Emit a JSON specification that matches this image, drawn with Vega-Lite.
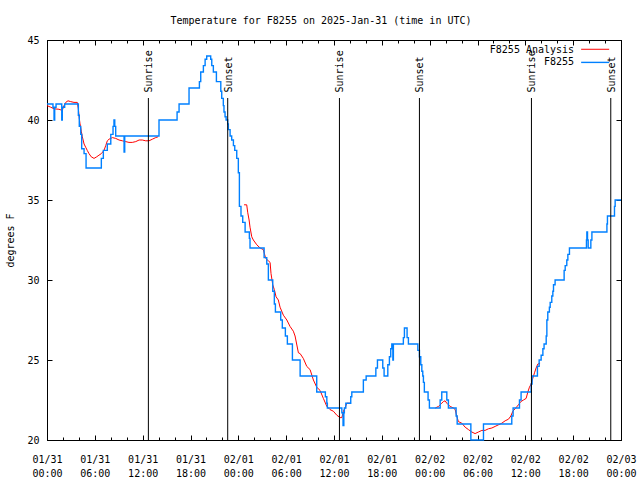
{
  "$schema": "https://vega.github.io/schema/vega-lite/v6.json",
  "width": 574,
  "height": 400,
  "autosize": {"type": "none"},
  "padding": {"left": 47, "top": 40, "right": 19, "bottom": 40},
  "background": "white",
  "title": {"text": "Temperature for F8255 on 2025-Jan-31 (time in UTC)", "anchor": "middle", "frame": "bounds", "offset": 9, "font": "DejaVu Sans Mono", "fontSize": 10, "fontWeight": "normal", "color": "black"},
  "resolve": {"axis": {"x": "independent", "y": "independent"}},
  "config": {
    "view": {"stroke": "black"},
    "axis": {"labelFont": "DejaVu Sans Mono", "labelFontSize": 10, "titleFont": "DejaVu Sans Mono", "titleFontSize": 10, "titleFontWeight": "normal", "domainColor": "black", "tickColor": "black", "labelColor": "black", "titleColor": "black", "grid": false, "domainWidth": 1, "tickWidth": 1},
    "text": {"font": "DejaVu Sans Mono", "fontSize": 10}
  },
  "datasets": {
    "obs": [
      {"t": "2025-01-31T00:00:00Z", "v": 41}, {"t": "2025-01-31T00:45:00Z", "v": 40.8}, {"t": "2025-01-31T00:53:00Z", "v": 40}, {"t": "2025-01-31T00:58:00Z", "v": 40.8},
      {"t": "2025-01-31T01:08:00Z", "v": 41}, {"t": "2025-01-31T01:51:00Z", "v": 40}, {"t": "2025-01-31T01:55:00Z", "v": 40.8}, {"t": "2025-01-31T02:13:00Z", "v": 41},
      {"t": "2025-01-31T03:56:00Z", "v": 40.3}, {"t": "2025-01-31T04:03:00Z", "v": 39.6}, {"t": "2025-01-31T04:14:00Z", "v": 39.1}, {"t": "2025-01-31T04:21:00Z", "v": 38.2},
      {"t": "2025-01-31T04:39:00Z", "v": 37.9}, {"t": "2025-01-31T04:54:00Z", "v": 37}, {"t": "2025-01-31T06:49:00Z", "v": 37.6}, {"t": "2025-01-31T07:04:00Z", "v": 38.1},
      {"t": "2025-01-31T07:34:00Z", "v": 38.5}, {"t": "2025-01-31T08:00:00Z", "v": 39.1}, {"t": "2025-01-31T08:17:00Z", "v": 39.6}, {"t": "2025-01-31T08:24:00Z", "v": 40},
      {"t": "2025-01-31T08:30:00Z", "v": 39.6}, {"t": "2025-01-31T08:37:00Z", "v": 39}, {"t": "2025-01-31T09:40:00Z", "v": 38}, {"t": "2025-01-31T09:45:00Z", "v": 39},
      {"t": "2025-01-31T14:03:00Z", "v": 40}, {"t": "2025-01-31T16:19:00Z", "v": 40.5}, {"t": "2025-01-31T16:34:00Z", "v": 41}, {"t": "2025-01-31T17:49:00Z", "v": 42},
      {"t": "2025-01-31T19:07:00Z", "v": 42.4}, {"t": "2025-01-31T19:17:00Z", "v": 43}, {"t": "2025-01-31T19:37:00Z", "v": 43.4}, {"t": "2025-01-31T19:50:00Z", "v": 43.8},
      {"t": "2025-01-31T20:02:00Z", "v": 44}, {"t": "2025-01-31T20:32:00Z", "v": 43.8}, {"t": "2025-01-31T20:40:00Z", "v": 43.4}, {"t": "2025-01-31T20:52:00Z", "v": 43},
      {"t": "2025-01-31T21:15:00Z", "v": 42.4}, {"t": "2025-01-31T21:48:00Z", "v": 41.8}, {"t": "2025-01-31T21:55:00Z", "v": 41.35}, {"t": "2025-01-31T22:07:00Z", "v": 40.9},
      {"t": "2025-01-31T22:12:00Z", "v": 40.5}, {"t": "2025-01-31T22:20:00Z", "v": 40.2}, {"t": "2025-01-31T22:28:00Z", "v": 40}, {"t": "2025-01-31T22:40:00Z", "v": 39.75},
      {"t": "2025-01-31T22:45:00Z", "v": 39.4}, {"t": "2025-01-31T22:58:00Z", "v": 39}, {"t": "2025-01-31T23:10:00Z", "v": 38.75}, {"t": "2025-01-31T23:23:00Z", "v": 38.4},
      {"t": "2025-01-31T23:33:00Z", "v": 38.1}, {"t": "2025-01-31T23:48:00Z", "v": 37.6}, {"t": "2025-02-01T00:00:00Z", "v": 36.7}, {"t": "2025-02-01T00:08:00Z", "v": 34.6},
      {"t": "2025-02-01T00:20:00Z", "v": 34}, {"t": "2025-02-01T00:33:00Z", "v": 33.6}, {"t": "2025-02-01T00:51:00Z", "v": 33}, {"t": "2025-02-01T01:23:00Z", "v": 32.6},
      {"t": "2025-02-01T01:28:00Z", "v": 32}, {"t": "2025-02-01T03:14:00Z", "v": 31.4}, {"t": "2025-02-01T03:34:00Z", "v": 31}, {"t": "2025-02-01T03:46:00Z", "v": 30},
      {"t": "2025-02-01T04:19:00Z", "v": 29.3}, {"t": "2025-02-01T04:31:00Z", "v": 28.5}, {"t": "2025-02-01T04:39:00Z", "v": 28}, {"t": "2025-02-01T05:19:00Z", "v": 27.5},
      {"t": "2025-02-01T05:31:00Z", "v": 27}, {"t": "2025-02-01T05:54:00Z", "v": 26.5}, {"t": "2025-02-01T06:09:00Z", "v": 26}, {"t": "2025-02-01T06:47:00Z", "v": 25},
      {"t": "2025-02-01T07:45:00Z", "v": 24}, {"t": "2025-02-01T09:50:00Z", "v": 23}, {"t": "2025-02-01T10:55:00Z", "v": 22.7}, {"t": "2025-02-01T11:06:00Z", "v": 22.3},
      {"t": "2025-02-01T11:10:00Z", "v": 22}, {"t": "2025-02-01T12:59:00Z", "v": 21.7}, {"t": "2025-02-01T13:08:00Z", "v": 20.9}, {"t": "2025-02-01T13:14:00Z", "v": 21.7},
      {"t": "2025-02-01T13:18:00Z", "v": 22}, {"t": "2025-02-01T13:29:00Z", "v": 22.3}, {"t": "2025-02-01T14:06:00Z", "v": 22.7}, {"t": "2025-02-01T14:14:00Z", "v": 23},
      {"t": "2025-02-01T15:41:00Z", "v": 23.75}, {"t": "2025-02-01T16:02:00Z", "v": 24}, {"t": "2025-02-01T17:15:00Z", "v": 24.5}, {"t": "2025-02-01T17:27:00Z", "v": 25},
      {"t": "2025-02-01T18:07:00Z", "v": 24.5}, {"t": "2025-02-01T18:17:00Z", "v": 24}, {"t": "2025-02-01T18:45:00Z", "v": 24.7}, {"t": "2025-02-01T18:57:00Z", "v": 25.2},
      {"t": "2025-02-01T19:07:00Z", "v": 25.7}, {"t": "2025-02-01T19:15:00Z", "v": 26}, {"t": "2025-02-01T19:23:00Z", "v": 25}, {"t": "2025-02-01T19:27:00Z", "v": 26},
      {"t": "2025-02-01T20:42:00Z", "v": 26.4}, {"t": "2025-02-01T20:50:00Z", "v": 27}, {"t": "2025-02-01T21:10:00Z", "v": 26.4}, {"t": "2025-02-01T21:20:00Z", "v": 26},
      {"t": "2025-02-01T22:31:00Z", "v": 25.6}, {"t": "2025-02-01T22:43:00Z", "v": 25.2}, {"t": "2025-02-01T22:53:00Z", "v": 24.7}, {"t": "2025-02-01T23:01:00Z", "v": 24.3},
      {"t": "2025-02-01T23:08:00Z", "v": 24}, {"t": "2025-02-01T23:13:00Z", "v": 23.6}, {"t": "2025-02-01T23:20:00Z", "v": 23}, {"t": "2025-02-01T23:48:00Z", "v": 22.5},
      {"t": "2025-02-01T23:58:00Z", "v": 22}, {"t": "2025-02-02T01:19:00Z", "v": 22.5}, {"t": "2025-02-02T01:31:00Z", "v": 23}, {"t": "2025-02-02T02:09:00Z", "v": 22.5},
      {"t": "2025-02-02T02:21:00Z", "v": 22}, {"t": "2025-02-02T03:19:00Z", "v": 21.5}, {"t": "2025-02-02T03:27:00Z", "v": 21}, {"t": "2025-02-02T05:10:00Z", "v": 20},
      {"t": "2025-02-02T06:45:00Z", "v": 21}, {"t": "2025-02-02T10:18:00Z", "v": 21.5}, {"t": "2025-02-02T10:28:00Z", "v": 22}, {"t": "2025-02-02T11:16:00Z", "v": 22.5},
      {"t": "2025-02-02T11:28:00Z", "v": 23}, {"t": "2025-02-02T12:44:00Z", "v": 23.5}, {"t": "2025-02-02T12:51:00Z", "v": 24}, {"t": "2025-02-02T13:31:00Z", "v": 24.6},
      {"t": "2025-02-02T13:44:00Z", "v": 25}, {"t": "2025-02-02T13:59:00Z", "v": 25.3}, {"t": "2025-02-02T14:12:00Z", "v": 25.7}, {"t": "2025-02-02T14:21:00Z", "v": 26},
      {"t": "2025-02-02T14:37:00Z", "v": 26.5}, {"t": "2025-02-02T14:42:00Z", "v": 27.5}, {"t": "2025-02-02T14:49:00Z", "v": 28}, {"t": "2025-02-02T15:01:00Z", "v": 28.3},
      {"t": "2025-02-02T15:07:00Z", "v": 28.6}, {"t": "2025-02-02T15:19:00Z", "v": 29}, {"t": "2025-02-02T15:27:00Z", "v": 29.3}, {"t": "2025-02-02T15:32:00Z", "v": 29.7},
      {"t": "2025-02-02T15:44:00Z", "v": 30}, {"t": "2025-02-02T16:52:00Z", "v": 30.6}, {"t": "2025-02-02T17:00:00Z", "v": 30.9}, {"t": "2025-02-02T17:12:00Z", "v": 31.25},
      {"t": "2025-02-02T17:20:00Z", "v": 31.6}, {"t": "2025-02-02T17:32:00Z", "v": 32}, {"t": "2025-02-02T19:40:00Z", "v": 32.5}, {"t": "2025-02-02T19:43:00Z", "v": 33},
      {"t": "2025-02-02T19:48:00Z", "v": 32.5}, {"t": "2025-02-02T19:53:00Z", "v": 32}, {"t": "2025-02-02T20:13:00Z", "v": 32.5}, {"t": "2025-02-02T20:21:00Z", "v": 33},
      {"t": "2025-02-02T22:14:00Z", "v": 33.5}, {"t": "2025-02-02T22:18:00Z", "v": 34}, {"t": "2025-02-02T23:11:00Z", "v": 34.6}, {"t": "2025-02-02T23:16:00Z", "v": 35},
      {"t": "2025-02-03T00:00:00Z", "v": 35}
    ],
    "analysis": [
      {"t": "2025-01-31T00:00:00Z", "v": 40.9, "seg": 1}, {"t": "2025-01-31T00:28:00Z", "v": 40.8, "seg": 1}, {"t": "2025-01-31T00:53:00Z", "v": 40.7, "seg": 1},
      {"t": "2025-01-31T01:30:00Z", "v": 40.67, "seg": 1}, {"t": "2025-01-31T01:55:00Z", "v": 40.6, "seg": 1}, {"t": "2025-01-31T02:08:00Z", "v": 40.9, "seg": 1},
      {"t": "2025-01-31T02:21:00Z", "v": 41.1, "seg": 1}, {"t": "2025-01-31T02:38:00Z", "v": 41.2, "seg": 1}, {"t": "2025-01-31T02:58:00Z", "v": 41.15, "seg": 1},
      {"t": "2025-01-31T03:23:00Z", "v": 41.1, "seg": 1}, {"t": "2025-01-31T03:48:00Z", "v": 41.1, "seg": 1}, {"t": "2025-01-31T03:56:00Z", "v": 40.7, "seg": 1},
      {"t": "2025-01-31T04:03:00Z", "v": 40.1, "seg": 1}, {"t": "2025-01-31T04:08:00Z", "v": 39.8, "seg": 1}, {"t": "2025-01-31T04:18:00Z", "v": 39.3, "seg": 1},
      {"t": "2025-01-31T04:26:00Z", "v": 38.95, "seg": 1}, {"t": "2025-01-31T04:39:00Z", "v": 38.5, "seg": 1}, {"t": "2025-01-31T04:51:00Z", "v": 38.3, "seg": 1},
      {"t": "2025-01-31T05:03:00Z", "v": 38.1, "seg": 1}, {"t": "2025-01-31T05:16:00Z", "v": 37.9, "seg": 1}, {"t": "2025-01-31T05:33:00Z", "v": 37.7, "seg": 1},
      {"t": "2025-01-31T05:54:00Z", "v": 37.6, "seg": 1}, {"t": "2025-01-31T06:14:00Z", "v": 37.7, "seg": 1}, {"t": "2025-01-31T06:31:00Z", "v": 37.8, "seg": 1},
      {"t": "2025-01-31T06:49:00Z", "v": 37.9, "seg": 1}, {"t": "2025-01-31T07:09:00Z", "v": 38.1, "seg": 1}, {"t": "2025-01-31T07:22:00Z", "v": 38.4, "seg": 1},
      {"t": "2025-01-31T07:34:00Z", "v": 38.7, "seg": 1}, {"t": "2025-01-31T07:47:00Z", "v": 38.8, "seg": 1}, {"t": "2025-01-31T08:12:00Z", "v": 38.9, "seg": 1},
      {"t": "2025-01-31T08:37:00Z", "v": 38.85, "seg": 1}, {"t": "2025-01-31T09:02:00Z", "v": 38.75, "seg": 1}, {"t": "2025-01-31T09:27:00Z", "v": 38.7, "seg": 1},
      {"t": "2025-01-31T09:52:00Z", "v": 38.65, "seg": 1}, {"t": "2025-01-31T10:17:00Z", "v": 38.6, "seg": 1}, {"t": "2025-01-31T10:42:00Z", "v": 38.6, "seg": 1},
      {"t": "2025-01-31T11:08:00Z", "v": 38.65, "seg": 1}, {"t": "2025-01-31T11:33:00Z", "v": 38.75, "seg": 1}, {"t": "2025-01-31T11:57:00Z", "v": 38.75, "seg": 1},
      {"t": "2025-01-31T12:23:00Z", "v": 38.7, "seg": 1}, {"t": "2025-01-31T12:48:00Z", "v": 38.7, "seg": 1}, {"t": "2025-01-31T13:13:00Z", "v": 38.8, "seg": 1},
      {"t": "2025-01-31T13:38:00Z", "v": 38.9, "seg": 1}, {"t": "2025-01-31T13:56:00Z", "v": 38.95, "seg": 1},
      {"t": "2025-02-01T00:43:00Z", "v": 34.7, "seg": 2}, {"t": "2025-02-01T01:03:00Z", "v": 34.7, "seg": 2}, {"t": "2025-02-01T01:11:00Z", "v": 34.2, "seg": 2},
      {"t": "2025-02-01T01:21:00Z", "v": 33.75, "seg": 2}, {"t": "2025-02-01T01:28:00Z", "v": 33.3, "seg": 2}, {"t": "2025-02-01T01:41:00Z", "v": 32.7, "seg": 2},
      {"t": "2025-02-01T01:53:00Z", "v": 32.5, "seg": 2}, {"t": "2025-02-01T02:19:00Z", "v": 32.2, "seg": 2}, {"t": "2025-02-01T02:44:00Z", "v": 32.0, "seg": 2},
      {"t": "2025-02-01T03:08:00Z", "v": 31.9, "seg": 2}, {"t": "2025-02-01T03:26:00Z", "v": 31.35, "seg": 2}, {"t": "2025-02-01T03:46:00Z", "v": 31.2, "seg": 2},
      {"t": "2025-02-01T03:59:00Z", "v": 31.1, "seg": 2}, {"t": "2025-02-01T04:06:00Z", "v": 30.4, "seg": 2}, {"t": "2025-02-01T04:19:00Z", "v": 29.7, "seg": 2},
      {"t": "2025-02-01T04:31:00Z", "v": 29.4, "seg": 2}, {"t": "2025-02-01T04:44:00Z", "v": 28.95, "seg": 2}, {"t": "2025-02-01T05:01:00Z", "v": 28.75, "seg": 2},
      {"t": "2025-02-01T05:14:00Z", "v": 28.3, "seg": 2}, {"t": "2025-02-01T05:39:00Z", "v": 27.8, "seg": 2}, {"t": "2025-02-01T06:05:00Z", "v": 27.5, "seg": 2},
      {"t": "2025-02-01T06:29:00Z", "v": 27.1, "seg": 2}, {"t": "2025-02-01T06:54:00Z", "v": 26.8, "seg": 2}, {"t": "2025-02-01T07:07:00Z", "v": 26.5, "seg": 2},
      {"t": "2025-02-01T07:32:00Z", "v": 25.45, "seg": 2}, {"t": "2025-02-01T07:45:00Z", "v": 25.4, "seg": 2}, {"t": "2025-02-01T08:09:00Z", "v": 25.1, "seg": 2},
      {"t": "2025-02-01T08:35:00Z", "v": 24.6, "seg": 2}, {"t": "2025-02-01T09:00:00Z", "v": 24.4, "seg": 2}, {"t": "2025-02-01T09:25:00Z", "v": 23.75, "seg": 2},
      {"t": "2025-02-01T09:50:00Z", "v": 23.3, "seg": 2}, {"t": "2025-02-01T10:15:00Z", "v": 23.1, "seg": 2}, {"t": "2025-02-01T10:40:00Z", "v": 22.6, "seg": 2},
      {"t": "2025-02-01T11:06:00Z", "v": 22.1, "seg": 2}, {"t": "2025-02-01T11:30:00Z", "v": 21.9, "seg": 2}, {"t": "2025-02-01T11:55:00Z", "v": 21.8, "seg": 2},
      {"t": "2025-02-01T12:21:00Z", "v": 21.55, "seg": 2}, {"t": "2025-02-01T12:46:00Z", "v": 21.4, "seg": 2}, {"t": "2025-02-01T12:59:00Z", "v": 21.4, "seg": 2},
      {"t": "2025-02-01T13:11:00Z", "v": 21.8, "seg": 2}, {"t": "2025-02-01T13:23:00Z", "v": 22.0, "seg": 2}, {"t": "2025-02-01T13:36:00Z", "v": 22.3, "seg": 2},
      {"t": "2025-02-01T14:01:00Z", "v": 22.3, "seg": 2},
      {"t": "2025-02-02T00:42:00Z", "v": 22.0, "seg": 3}, {"t": "2025-02-02T01:07:00Z", "v": 22.1, "seg": 3}, {"t": "2025-02-02T01:19:00Z", "v": 22.2, "seg": 3},
      {"t": "2025-02-02T01:31:00Z", "v": 22.3, "seg": 3}, {"t": "2025-02-02T01:43:00Z", "v": 22.4, "seg": 3}, {"t": "2025-02-02T01:56:00Z", "v": 22.45, "seg": 3},
      {"t": "2025-02-02T02:09:00Z", "v": 22.3, "seg": 3}, {"t": "2025-02-02T02:21:00Z", "v": 22.2, "seg": 3}, {"t": "2025-02-02T02:34:00Z", "v": 22.1, "seg": 3},
      {"t": "2025-02-02T02:59:00Z", "v": 22.0, "seg": 3}, {"t": "2025-02-02T03:12:00Z", "v": 21.9, "seg": 3}, {"t": "2025-02-02T03:24:00Z", "v": 21.5, "seg": 3},
      {"t": "2025-02-02T03:36:00Z", "v": 21.15, "seg": 3}, {"t": "2025-02-02T04:02:00Z", "v": 21.05, "seg": 3}, {"t": "2025-02-02T04:27:00Z", "v": 20.8, "seg": 3},
      {"t": "2025-02-02T04:52:00Z", "v": 20.65, "seg": 3}, {"t": "2025-02-02T05:17:00Z", "v": 20.5, "seg": 3}, {"t": "2025-02-02T05:42:00Z", "v": 20.4, "seg": 3},
      {"t": "2025-02-02T06:07:00Z", "v": 20.5, "seg": 3}, {"t": "2025-02-02T06:33:00Z", "v": 20.6, "seg": 3}, {"t": "2025-02-02T06:57:00Z", "v": 20.6, "seg": 3},
      {"t": "2025-02-02T07:22:00Z", "v": 20.7, "seg": 3}, {"t": "2025-02-02T07:48:00Z", "v": 20.75, "seg": 3}, {"t": "2025-02-02T08:13:00Z", "v": 20.85, "seg": 3},
      {"t": "2025-02-02T08:38:00Z", "v": 20.95, "seg": 3}, {"t": "2025-02-02T09:03:00Z", "v": 21.05, "seg": 3}, {"t": "2025-02-02T09:28:00Z", "v": 21.2, "seg": 3},
      {"t": "2025-02-02T09:53:00Z", "v": 21.3, "seg": 3}, {"t": "2025-02-02T10:11:00Z", "v": 21.5, "seg": 3}, {"t": "2025-02-02T10:26:00Z", "v": 21.8, "seg": 3},
      {"t": "2025-02-02T10:43:00Z", "v": 21.95, "seg": 3}, {"t": "2025-02-02T11:08:00Z", "v": 22.2, "seg": 3}, {"t": "2025-02-02T11:26:00Z", "v": 22.4, "seg": 3},
      {"t": "2025-02-02T11:46:00Z", "v": 22.5, "seg": 3}, {"t": "2025-02-02T12:06:00Z", "v": 22.6, "seg": 3}, {"t": "2025-02-02T12:19:00Z", "v": 23.0, "seg": 3},
      {"t": "2025-02-02T12:31:00Z", "v": 23.3, "seg": 3}, {"t": "2025-02-02T12:44:00Z", "v": 23.5, "seg": 3}, {"t": "2025-02-02T12:56:00Z", "v": 23.85, "seg": 3},
      {"t": "2025-02-02T13:09:00Z", "v": 24.2, "seg": 3}, {"t": "2025-02-02T13:21:00Z", "v": 24.5, "seg": 3}, {"t": "2025-02-02T13:34:00Z", "v": 24.75, "seg": 3},
      {"t": "2025-02-02T13:51:00Z", "v": 24.8, "seg": 3}
    ],
    "sun": [
      {"t": "2025-01-31T12:43:00Z", "event": "Sunrise"}, {"t": "2025-01-31T22:40:00Z", "event": "Sunset"},
      {"t": "2025-02-01T12:41:00Z", "event": "Sunrise"}, {"t": "2025-02-01T22:43:00Z", "event": "Sunset"},
      {"t": "2025-02-02T12:46:00Z", "event": "Sunrise"}, {"t": "2025-02-02T22:43:00Z", "event": "Sunset"}
    ]
  },
  "layer": [
    {
      "data": {"name": "analysis"},
      "mark": {"type": "line", "color": "#ff0000", "strokeWidth": 1},
      "encoding": {
        "x": {"field": "t", "type": "temporal", "scale": {"type": "utc", "domain": [{"year": 2025, "month": 1, "date": 31, "utc": true}, {"year": 2025, "month": 2, "date": 3, "utc": true}], "nice": false},
          "axis": {"orient": "bottom", "title": null, "labelFlush": false, "labelOverlap": false, "tickSize": -5, "tickCount": 20, "labelPadding": 19, "labelBaseline": "top", "labelLineHeight": 14.5,
            "labelExpr": "[utcFormat(datum.value, '%m/%d'), utcFormat(datum.value, '%H:%M')]",
            "values": [
              {"year": 2025, "month": 1, "date": 31, "hours": 0, "utc": true}, {"year": 2025, "month": 1, "date": 31, "hours": 6, "utc": true},
              {"year": 2025, "month": 1, "date": 31, "hours": 12, "utc": true}, {"year": 2025, "month": 1, "date": 31, "hours": 18, "utc": true},
              {"year": 2025, "month": 2, "date": 1, "hours": 0, "utc": true}, {"year": 2025, "month": 2, "date": 1, "hours": 6, "utc": true},
              {"year": 2025, "month": 2, "date": 1, "hours": 12, "utc": true}, {"year": 2025, "month": 2, "date": 1, "hours": 18, "utc": true},
              {"year": 2025, "month": 2, "date": 2, "hours": 0, "utc": true}, {"year": 2025, "month": 2, "date": 2, "hours": 6, "utc": true},
              {"year": 2025, "month": 2, "date": 2, "hours": 12, "utc": true}, {"year": 2025, "month": 2, "date": 2, "hours": 18, "utc": true},
              {"year": 2025, "month": 2, "date": 3, "hours": 0, "utc": true}
            ]}},
        "y": {"field": "v", "type": "quantitative", "scale": {"domain": [20, 45], "nice": false, "zero": false}, "axis": {"orient": "left", "title": "degrees F", "values": [20, 25, 30, 35, 40, 45], "tickSize": -5, "labelPadding": 13, "titlePadding": 11}},
        "detail": {"field": "seg", "type": "nominal"}
      }
    },
    {
      "data": {"name": "obs"},
      "mark": {"type": "line", "color": "#0080ff", "strokeWidth": 1.4, "interpolate": "step-after"},
      "encoding": {
        "x": {"field": "t", "type": "temporal",
          "axis": {"orient": "bottom", "title": null, "labels": false, "domain": false, "tickSize": -3, "tickCount": 40,
            "values": [
              {"year": 2025, "month": 1, "date": 31, "hours": 2, "utc": true}, {"year": 2025, "month": 1, "date": 31, "hours": 4, "utc": true},
              {"year": 2025, "month": 1, "date": 31, "hours": 8, "utc": true}, {"year": 2025, "month": 1, "date": 31, "hours": 10, "utc": true},
              {"year": 2025, "month": 1, "date": 31, "hours": 14, "utc": true}, {"year": 2025, "month": 1, "date": 31, "hours": 16, "utc": true},
              {"year": 2025, "month": 1, "date": 31, "hours": 20, "utc": true}, {"year": 2025, "month": 1, "date": 31, "hours": 22, "utc": true},
              {"year": 2025, "month": 2, "date": 1, "hours": 2, "utc": true}, {"year": 2025, "month": 2, "date": 1, "hours": 4, "utc": true},
              {"year": 2025, "month": 2, "date": 1, "hours": 8, "utc": true}, {"year": 2025, "month": 2, "date": 1, "hours": 10, "utc": true},
              {"year": 2025, "month": 2, "date": 1, "hours": 14, "utc": true}, {"year": 2025, "month": 2, "date": 1, "hours": 16, "utc": true},
              {"year": 2025, "month": 2, "date": 1, "hours": 20, "utc": true}, {"year": 2025, "month": 2, "date": 1, "hours": 22, "utc": true},
              {"year": 2025, "month": 2, "date": 2, "hours": 2, "utc": true}, {"year": 2025, "month": 2, "date": 2, "hours": 4, "utc": true},
              {"year": 2025, "month": 2, "date": 2, "hours": 8, "utc": true}, {"year": 2025, "month": 2, "date": 2, "hours": 10, "utc": true},
              {"year": 2025, "month": 2, "date": 2, "hours": 14, "utc": true}, {"year": 2025, "month": 2, "date": 2, "hours": 16, "utc": true},
              {"year": 2025, "month": 2, "date": 2, "hours": 20, "utc": true}, {"year": 2025, "month": 2, "date": 2, "hours": 22, "utc": true}
            ]}},
        "y": {"field": "v", "type": "quantitative", "axis": null}
      }
    },
    {
      "data": {"name": "sun"},
      "mark": {"type": "rule", "color": "black", "strokeWidth": 1},
      "encoding": {
        "x": {"field": "t", "type": "temporal",
          "axis": {"orient": "top", "title": null, "labels": false, "tickSize": -5, "tickCount": 20,
            "values": [
              {"year": 2025, "month": 1, "date": 31, "hours": 0, "utc": true}, {"year": 2025, "month": 1, "date": 31, "hours": 6, "utc": true},
              {"year": 2025, "month": 1, "date": 31, "hours": 12, "utc": true}, {"year": 2025, "month": 1, "date": 31, "hours": 18, "utc": true},
              {"year": 2025, "month": 2, "date": 1, "hours": 0, "utc": true}, {"year": 2025, "month": 2, "date": 1, "hours": 6, "utc": true},
              {"year": 2025, "month": 2, "date": 1, "hours": 12, "utc": true}, {"year": 2025, "month": 2, "date": 1, "hours": 18, "utc": true},
              {"year": 2025, "month": 2, "date": 2, "hours": 0, "utc": true}, {"year": 2025, "month": 2, "date": 2, "hours": 6, "utc": true},
              {"year": 2025, "month": 2, "date": 2, "hours": 12, "utc": true}, {"year": 2025, "month": 2, "date": 2, "hours": 18, "utc": true},
              {"year": 2025, "month": 2, "date": 3, "hours": 0, "utc": true}
            ]}},
        "y": {"datum": 41.375, "type": "quantitative", "axis": {"orient": "right", "title": null, "labels": false, "values": [20, 25, 30, 35, 40, 45], "tickSize": -5}},
        "y2": {"datum": 20}
      }
    },
    {
      "data": {"name": "sun"},
      "mark": {"type": "text", "angle": 270, "align": "left", "baseline": "middle", "dy": 1, "color": "black", "font": "DejaVu Sans Mono", "fontSize": 10},
      "encoding": {
        "x": {"field": "t", "type": "temporal",
          "axis": {"orient": "top", "title": null, "labels": false, "domain": false, "tickSize": -3, "tickCount": 40,
            "values": [
              {"year": 2025, "month": 1, "date": 31, "hours": 2, "utc": true}, {"year": 2025, "month": 1, "date": 31, "hours": 4, "utc": true},
              {"year": 2025, "month": 1, "date": 31, "hours": 8, "utc": true}, {"year": 2025, "month": 1, "date": 31, "hours": 10, "utc": true},
              {"year": 2025, "month": 1, "date": 31, "hours": 14, "utc": true}, {"year": 2025, "month": 1, "date": 31, "hours": 16, "utc": true},
              {"year": 2025, "month": 1, "date": 31, "hours": 20, "utc": true}, {"year": 2025, "month": 1, "date": 31, "hours": 22, "utc": true},
              {"year": 2025, "month": 2, "date": 1, "hours": 2, "utc": true}, {"year": 2025, "month": 2, "date": 1, "hours": 4, "utc": true},
              {"year": 2025, "month": 2, "date": 1, "hours": 8, "utc": true}, {"year": 2025, "month": 2, "date": 1, "hours": 10, "utc": true},
              {"year": 2025, "month": 2, "date": 1, "hours": 14, "utc": true}, {"year": 2025, "month": 2, "date": 1, "hours": 16, "utc": true},
              {"year": 2025, "month": 2, "date": 1, "hours": 20, "utc": true}, {"year": 2025, "month": 2, "date": 1, "hours": 22, "utc": true},
              {"year": 2025, "month": 2, "date": 2, "hours": 2, "utc": true}, {"year": 2025, "month": 2, "date": 2, "hours": 4, "utc": true},
              {"year": 2025, "month": 2, "date": 2, "hours": 8, "utc": true}, {"year": 2025, "month": 2, "date": 2, "hours": 10, "utc": true},
              {"year": 2025, "month": 2, "date": 2, "hours": 14, "utc": true}, {"year": 2025, "month": 2, "date": 2, "hours": 16, "utc": true},
              {"year": 2025, "month": 2, "date": 2, "hours": 20, "utc": true}, {"year": 2025, "month": 2, "date": 2, "hours": 22, "utc": true}
            ]}},
        "y": {"datum": 41.72, "type": "quantitative", "axis": null},
        "text": {"field": "event", "type": "nominal"}
      }
    },
    {
      "data": {"values": [{"label": "F8255 Analysis"}]},
      "mark": {"type": "text", "align": "right", "baseline": "middle", "color": "black", "font": "DejaVu Sans Mono", "fontSize": 10},
      "encoding": {
        "x": {"datum": {"year": 2025, "month": 2, "date": 2, "hours": 18, "minutes": 7, "utc": true}, "type": "temporal", "axis": null},
        "y": {"datum": 44.375, "type": "quantitative", "axis": null},
        "text": {"field": "label", "type": "nominal"}
      }
    },
    {
      "data": {"values": [{"label": "F8255"}]},
      "mark": {"type": "text", "align": "right", "baseline": "middle", "color": "black", "font": "DejaVu Sans Mono", "fontSize": 10},
      "encoding": {
        "x": {"datum": {"year": 2025, "month": 2, "date": 2, "hours": 18, "minutes": 7, "utc": true}, "type": "temporal", "axis": null},
        "y": {"datum": 43.6, "type": "quantitative", "axis": null},
        "text": {"field": "label", "type": "nominal"}
      }
    },
    {
      "data": {"values": [{"series": "F8255 Analysis"}]},
      "mark": {"type": "rule", "color": "#ff0000", "strokeWidth": 1},
      "encoding": {
        "x": {"datum": {"year": 2025, "month": 2, "date": 2, "hours": 19, "minutes": 0, "utc": true}, "type": "temporal", "axis": null},
        "x2": {"datum": {"year": 2025, "month": 2, "date": 2, "hours": 22, "minutes": 31, "utc": true}},
        "y": {"datum": 44.42, "type": "quantitative", "axis": null}
      }
    },
    {
      "data": {"values": [{"series": "F8255"}]},
      "mark": {"type": "rule", "color": "#0080ff", "strokeWidth": 1.4},
      "encoding": {
        "x": {"datum": {"year": 2025, "month": 2, "date": 2, "hours": 19, "minutes": 0, "utc": true}, "type": "temporal", "axis": null},
        "x2": {"datum": {"year": 2025, "month": 2, "date": 2, "hours": 22, "minutes": 31, "utc": true}},
        "y": {"datum": 43.6, "type": "quantitative", "axis": null}
      }
    }
  ]
}
